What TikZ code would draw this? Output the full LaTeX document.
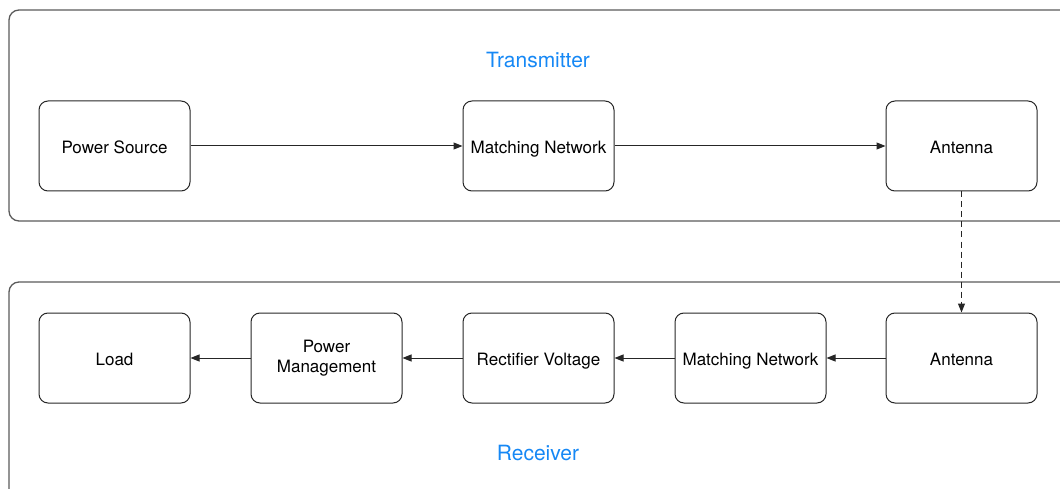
\documentclass[tikz,border=0pt]{standalone}
\usepackage{fontspec}
\setmainfont{TeX Gyre Heros}
\usetikzlibrary{arrows.meta}
\definecolor{titleblue}{RGB}{22,136,245}
\definecolor{framegrey}{RGB}{90,90,90}
\tikzset{
  blockbox/.style={draw=black!85, line width=1pt, rounded corners=9pt, minimum width=151pt, minimum height=90pt, align=center, font=\fontsize{17}{20}\selectfont, inner sep=2pt},
  oneline/.style={blockbox, text height=15pt, text depth=0pt},
  groupframe/.style={draw=framegrey, line width=1.3pt, rounded corners=10pt},
  grouptitle/.style={text=titleblue, font=\fontsize{21}{24}\selectfont},
  flow/.style={draw=black!85, line width=1pt, -{Triangle[length=9pt,width=7pt]}},
  wireless/.style={flow, dash pattern=on 6pt off 4pt}
}
\begin{document}
\begin{tikzpicture}[x=1pt,y=-1pt]
\useasboundingbox (0,0) rectangle (1060,489);
\clip (0,0) rectangle (1060,489);
\draw[groupframe] (9,10) rectangle (1080,221);
\draw[groupframe] (9,282) rectangle (1080,510);
\node[grouptitle] (ttitle) at (538,60) {Transmitter};
\node[grouptitle] (rtitle) at (538,453) {Receiver};
\node[oneline] (ps) at (114.5,146) {Power Source};
\node[oneline] (tmn) at (538.5,146) {Matching Network};
\node[oneline] (tant) at (961.5,146) {Antenna};
\node[oneline] (load) at (114.5,358) {Load};
\node[blockbox] (pm) at (326.5,358) {Power\\Management};
\node[oneline] (rv) at (538.5,358) {Rectifier Voltage};
\node[oneline] (rmn) at (750.5,358) {Matching Network};
\node[oneline] (rant) at (961.5,358) {Antenna};
\draw[flow] (ps) -- (tmn);
\draw[flow] (tmn) -- (tant);
\draw[wireless] (tant) -- (rant);
\draw[flow] (rant) -- (rmn);
\draw[flow] (rmn) -- (rv);
\draw[flow] (rv) -- (pm);
\draw[flow] (pm) -- (load);
\end{tikzpicture}
\end{document}
